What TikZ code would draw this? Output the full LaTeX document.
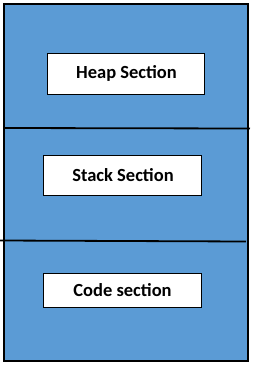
\documentclass[tikz,border=0pt]{standalone}
\usepackage{fontspec}
\setmainfont{Carlito}
\definecolor{memblue}{HTML}{5B9BD5}
\begin{document}
\begin{tikzpicture}[x=1pt,y=-1pt,
  section/.style={draw=black, line width=1pt, fill=white, inner sep=0pt,
    font=\fontsize{18.5}{21}\selectfont\bfseries},
  divider/.style={draw=black, line width=1.8pt}]
\useasboundingbox (0,0) rectangle (253,368);
\fill[memblue] (4,4) rectangle (248,361);
\coordinate (d1a) at (4,128);
\coordinate (d1b) at (250,128.5);
\coordinate (d2a) at (0,240.5);
\coordinate (d2b) at (246,241.5);
\draw[divider] (d1a) -- (d1b);
\draw[divider] (d2a) -- (d2b);
\draw[black, line width=2.5pt] (4,4) rectangle (248,361);
\node[section, minimum width=157pt, minimum height=41pt] (heap) at (126.5,73.5) {Heap Section};
\node[section, minimum width=158pt, minimum height=40pt] (stack) at (123,175) {Stack Section};
\node[section, minimum width=158pt, minimum height=34pt] (code) at (122.5,290) {Code section};
\end{tikzpicture}
\end{document}
